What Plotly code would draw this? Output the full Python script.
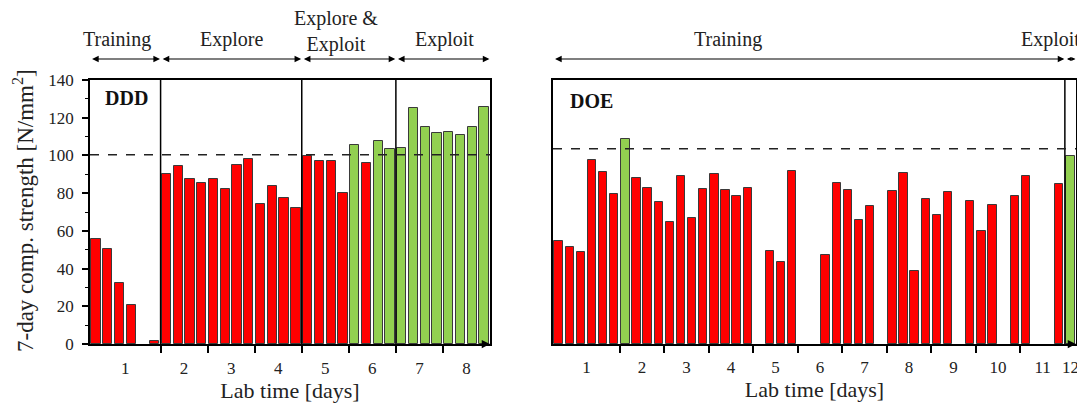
import plotly.graph_objects as go

# ---------------- data ----------------
# DDD panel: one value per test slot (None = no test in that slot)
ddd_strength = [55.5, 50.5, 32.5, 20.5, None, 1.5,
                90.0, 94.3, 87.3, 85.6, 87.7, 82.4, 94.8, 98.1, 74.2, 83.8, 77.6, 72.3,
                99.6, 96.9, 96.9, 80.1, 105.3, 96.2, 107.7, 103.6,
                103.8, 124.9, 115.0, 111.8, 112.5, 111.1, 115.0, 125.6]
ddd_is_exploit = [0, 0, 0, 0, 0, 0,
                  0, 0, 0, 0, 0, 0, 0, 0, 0, 0, 0, 0,
                  0, 0, 0, 0, 1, 0, 1, 1,
                  1, 1, 1, 1, 1, 1, 1, 1]
ddd_target = 100.3
ddd_day_labels = ["1", "2", "3", "4", "5", "6", "7", "8"]
ddd_day_slots = [6, 4, 4, 4, 4, 4, 4, 4]          # slots per lab day
ddd_phases = ["Training", "Explore", "Explore &<br>Exploit", "Exploit"]
ddd_phase_slots = [6, 12, 8, 8]

# DOE panel
doe_strength = [54.6, 51.7, 48.9, 97.6, 91.1, 79.4,
                108.6, 88.1, 82.8, 75.2,
                64.6, 89.0, 66.6, 82.3,
                90.4, 81.7, 78.6, 82.8,
                None, 49.3, 43.3, 91.8,
                None, None, 47.0, 85.5,
                81.6, 66.0, 73.3, None,
                81.2, 90.7, 38.5, 77.0,
                68.5, 80.7, None, 75.6,
                59.9, 73.6, None, 78.7,
                89.3, None, None, 84.6,
                99.6]
doe_is_exploit = [0] * 6 + [1] + [0] * 39 + [1]
doe_target = 103.5
doe_day_labels = ["1", "2", "3", "4", "5", "6", "7", "8", "9", "10", "11", "12"]
doe_day_slots = [6, 4, 4, 4, 4, 4, 4, 4, 4, 4, 4, 1]
doe_phases = ["Training", "Exploit"]
doe_phase_slots = [46, 1]

y_ticks = [0, 20, 40, 60, 80, 100, 120, 140]

# ---------------- styling ----------------
RED = "#FF0000"
GREEN = "#92D050"
EDGE = "#3a3a3a"
FONT = "Liberation Serif, Times New Roman, serif"
OFF = 8                      # page body margin offset
W, H = 1085 - OFF, 405 - OFF

def px_x(p):
    return (p - OFF) / W

def px_y(p):
    return (H - (p - OFF)) / H

def boundaries(slots):
    b = [-0.5]
    for s in slots:
        b.append(b[-1] + s)
    return b

def centers(slots):
    b = boundaries(slots)
    return [(b[i] + b[i + 1]) / 2 for i in range(len(slots))]

fig = go.Figure()

fig.add_trace(go.Bar(
    x=list(range(len(ddd_strength))), y=ddd_strength,
    marker=dict(color=[GREEN if g else RED for g in ddd_is_exploit],
                line=dict(color=EDGE, width=1)),
    width=0.79, xaxis="x", yaxis="y", showlegend=False))

fig.add_trace(go.Bar(
    x=list(range(len(doe_strength))), y=doe_strength,
    marker=dict(color=[GREEN if g else RED for g in doe_is_exploit],
                line=dict(color=EDGE, width=1)),
    width=0.75, xaxis="x2", yaxis="y2", showlegend=False))

ddd_b = boundaries(ddd_day_slots)
doe_b = boundaries(doe_day_slots)

axis_common = dict(showline=True, linecolor="black", linewidth=1.5, mirror=True,
                   showgrid=False, zeroline=False, automargin=False,
                   tickfont=dict(family=FONT, size=17, color="#222"))

fig.update_layout(
    width=W, height=H,
    margin=dict(l=0, r=0, t=0, b=0, pad=0, autoexpand=False),
    paper_bgcolor="white", plot_bgcolor="white",
    bargap=0,
    font=dict(family=FONT, color="#222"),
    xaxis=dict(**axis_common, domain=[px_x(90), px_x(490)],
               range=[-0.5, len(ddd_strength) - 0.5],
               tickmode="array", tickvals=centers(ddd_day_slots), ticktext=ddd_day_labels,
               ticks="outside", ticklen=8, tickcolor="rgba(0,0,0,0)",
               minor=dict(tickmode="array", tickvals=ddd_b[1:-1], ticks="outside",
                          ticklen=7, tickwidth=1.5, tickcolor="black"),
               title=dict(text="Lab time [days]", font=dict(family=FONT, size=22), standoff=0),
               anchor="y"),
    yaxis=dict(**axis_common, domain=[px_y(344), px_y(80)], range=[0, 140],
               tickmode="array", tickvals=y_ticks,
               ticks="outside", ticklen=6, tickwidth=1.5, tickcolor="black",
               ticklabelstandoff=5,
               minor=dict(dtick=10, ticks="outside", ticklen=3, tickwidth=1, tickcolor="black"),
               anchor="x"),
    xaxis2=dict(**axis_common, domain=[px_x(553), px_x(1076)],
                range=[-0.5, len(doe_strength) - 0.5],
                tickmode="array", tickvals=centers(doe_day_slots), ticktext=doe_day_labels,
                ticks="outside", ticklen=7, tickcolor="rgba(0,0,0,0)",
                minor=dict(tickmode="array", tickvals=doe_b[1:-2], ticks="outside",
                           ticklen=7, tickwidth=1.5, tickcolor="black"),
                title=dict(text="Lab time [days]", font=dict(family=FONT, size=22), standoff=0),
                anchor="y2"),
    yaxis2=dict(**axis_common, domain=[px_y(344), px_y(80)], range=[0, 140],
                showticklabels=False, ticks="", anchor="x2"),
)

shapes = []
annotations = []

# phase separator lines and target lines
for xr, yr, slots in (("x", "y", ddd_phase_slots), ("x2", "y2", doe_phase_slots)):
    pb = boundaries(slots)
    for b in pb[1:-1]:
        shapes.append(dict(type="line", xref=xr, yref=yr + " domain", x0=b, x1=b, y0=0, y1=1,
                           line=dict(color="black", width=1.5)))
for xr, yr, t in (("x", "y", ddd_target), ("x2", "y2", doe_target)):
    shapes.append(dict(type="line", xref=xr + " domain", yref=yr, x0=0, x1=1, y0=t, y1=t,
                       line=dict(color="#222", width=1.5, dash="dash")))

# arrowheads at the end of x axes
for xr, yr, n in (("x", "y", len(ddd_strength)), ("x2", "y2", len(doe_strength))):
    annotations.append(dict(x=n - 0.5, y=0, xref=xr, yref=yr, ax=-9, ay=0,
                            showarrow=True, arrowhead=2, arrowsize=1.1, arrowwidth=1.5,
                            arrowcolor="black", text="", standoff=0))

# phase arrows
arrow_y = px_y(59)
for xr, slots in (("x", ddd_phase_slots), ("x2", doe_phase_slots)):
    pb = boundaries(slots)
    for i in range(len(slots)):
        short = slots[i] < 2
        annotations.append(dict(x=pb[i + 1] - 0.05, y=arrow_y, xref=xr, yref="paper",
                                ax=pb[i] + 0.05, ay=0, axref=xr, ayref="pixel",
                                showarrow=True, arrowhead=2, startarrowhead=2,
                                arrowside="end+start",
                                arrowsize=0.7 if short else 1.1,
                                startarrowsize=0.7 if short else 1.1,
                                arrowwidth=1.2, arrowcolor="black", text="",
                                standoff=0, startstandoff=0))

# phase labels
phase_label_pos = [(117, 40), (231, 40), (336, 31), (444, 40), (728, 40), (1050, 40)]
for txt, (px, py) in zip(ddd_phases + doe_phases, phase_label_pos):
    annotations.append(dict(x=px_x(px), y=px_y(py), xref="paper", yref="paper",
                            text=txt, showarrow=False, xanchor="center", yanchor="middle",
                            font=dict(family=FONT, size=20, color="#222")))

# panel tags
annotations.append(dict(x=0.032, y=0.93, xref="x domain", yref="y domain", text="<b>DDD</b>",
                        showarrow=False, xanchor="left", yanchor="middle",
                        font=dict(family=FONT, size=20, color="#111")))
annotations.append(dict(x=0.028, y=0.92, xref="x2 domain", yref="y2 domain", text="<b>DOE</b>",
                        showarrow=False, xanchor="left", yanchor="middle",
                        font=dict(family=FONT, size=20, color="#111")))

# y axis title
annotations.append(dict(x=px_x(23), y=px_y(211), xref="paper", yref="paper",
                        text="7-day comp. strength [N/mm<sup>2</sup>]", textangle=-90,
                        showarrow=False, xanchor="center", yanchor="middle",
                        font=dict(family=FONT, size=23, color="#222")))

fig.update_layout(shapes=shapes, annotations=annotations)
fig.write_html("out.html")
